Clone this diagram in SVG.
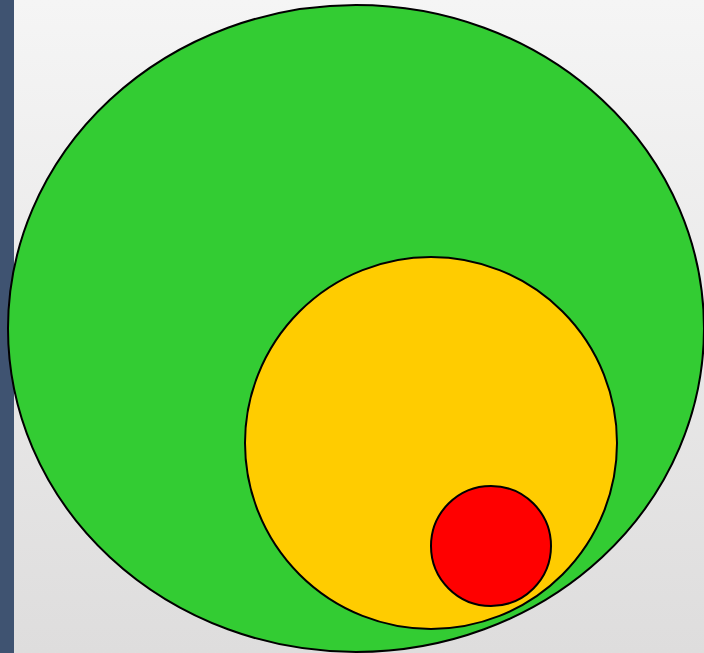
<svg xmlns="http://www.w3.org/2000/svg" width="704" height="653" viewBox="0 0 704 653">
<defs>
<linearGradient id="bg" x1="0" y1="0" x2="0" y2="1">
<stop offset="0" stop-color="#f5f5f5"/>
<stop offset="1" stop-color="#dedddd"/>
</linearGradient>
</defs>
<style>.c{stroke:#000;stroke-width:2}</style>
<rect x="0" y="0" width="704" height="653" fill="url(#bg)"/>
<rect x="0" y="0" width="14" height="653" fill="#3f5371"/>
<g id="outer"><ellipse class="c" cx="356" cy="328.5" rx="348" ry="323.5" fill="#33cc33"/></g>
<g id="middle"><circle class="c" cx="431" cy="443" r="186" fill="#ffcc00"/></g>
<g id="inner"><circle class="c" cx="491" cy="546" r="60" fill="#ff0000"/></g>
<g id="connectors"/>
</svg>
